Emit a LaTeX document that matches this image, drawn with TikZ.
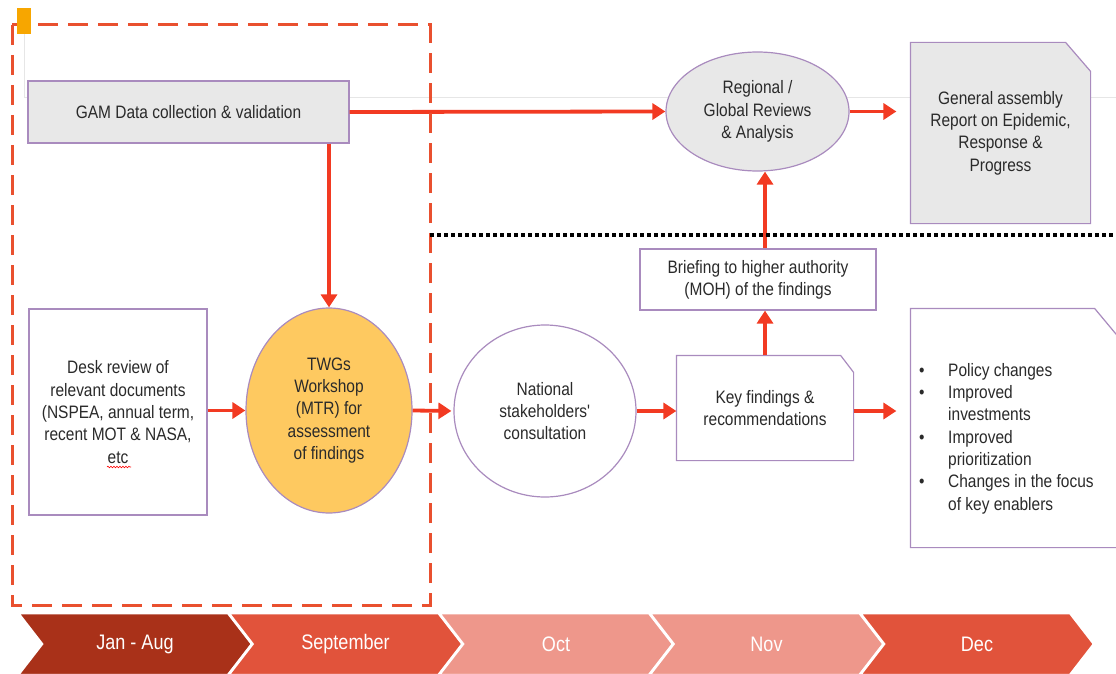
\documentclass[tikz,border=0pt]{standalone}
\usepackage{fontspec}
\setmainfont{Liberation Sans}[FakeStretch=0.86]
\usetikzlibrary{arrows.meta,shapes.geometric,backgrounds,decorations.pathmorphing}

\definecolor{arrRed}{HTML}{F23A22}
\definecolor{dashRed}{HTML}{E9502F}
\definecolor{boxLine}{HTML}{A98BBE}
\definecolor{boxFill}{HTML}{E8E8E8}
\definecolor{twgYellow}{HTML}{FEC960}
\definecolor{txtGray}{HTML}{2A2A2A}
\definecolor{janCol}{HTML}{A93119}
\definecolor{sepCol}{HTML}{E1533B}
\definecolor{octCol}{HTML}{EE978B}
\definecolor{faintGray}{HTML}{E6E6E6}
\definecolor{tagOrange}{HTML}{F7A600}

\tikzset{
  box/.style={draw=boxLine, line width=1.2pt, rectangle, align=center,
    inner sep=2pt, text=txtGray, font=\fontsize{18}{22.3}\selectfont},
  greybox/.style={box, fill=boxFill},
  oval/.style={box, ellipse, inner sep=1pt},
  doc/.style={box, draw=none},
  flow/.style={draw=arrRed, line width=3.8pt, -{Triangle[length=13pt,width=16pt]}},
  month/.style={text=white, font=\fontsize{21}{24}\selectfont},
}

\begin{document}
\begin{tikzpicture}[x=1pt, y=-1pt]

  \useasboundingbox (0,0) rectangle (1116,674);
  \clip (0,0) rectangle (1116,674);

  % Top row
  \node[greybox, minimum width=321pt, minimum height=62pt] (gam) at (188.5,112)
    {GAM Data collection \& validation};
  \node[oval, fill=boxFill, minimum width=183pt, minimum height=119pt] (regional) at (757.5,111.5)
    {Regional /\\Global Reviews\\\& Analysis};
  \node[doc, minimum width=179pt, minimum height=180pt] (gar) at (1000.5,133)
    {General assembly\\Report on Epidemic,\\Response \&\\Progress};

  % Bottom row
  \node[box, fill=white, minimum width=178pt, minimum height=206pt] (desk) at (118,412)
    {Desk review of\\relevant documents\\(NSPEA, annual term,\\recent MOT \& NASA,\\etc};
  \node[oval, fill=twgYellow, minimum width=166pt, minimum height=205pt] (twg) at (329,410.5)
    {TWGs\\Workshop\\(MTR) for\\assessment\\of findings};
  \node[oval, fill=white, minimum width=182pt, minimum height=172pt] (nat) at (545,411)
    {National\\stakeholders\textquotesingle\\consultation};
  \node[doc, minimum width=176pt, minimum height=104pt] (key) at (765,408)
    {Key findings \&\\recommendations};
  \node[box, fill=white, minimum width=236pt, minimum height=61pt] (brief) at (758,279.5)
    {Briefing to higher authority\\(MOH) of the findings};
  \node[doc, minimum width=208pt, minimum height=238pt] (res) at (1015,428) {};
  \node[anchor=north west, align=left, inner sep=0pt, text=txtGray,
    font=\fontsize{18}{22.3}\selectfont] (resList) at (919,363)
    {\makebox[29pt][l]{\textbullet}Policy changes\\
     \makebox[29pt][l]{\textbullet}Improved\\
     \hspace*{29pt}investments\\
     \makebox[29pt][l]{\textbullet}Improved\\
     \hspace*{29pt}prioritization\\
     \makebox[29pt][l]{\textbullet}Changes in the focus\\
     \hspace*{29pt}of key enablers};

  % Document outlines with cut corner
  \begin{scope}[on background layer]
    \draw[faintGray, line width=1pt] (24,34) -- (24,98) -- (1116,98);
    \filldraw[draw=boxLine, fill=boxFill, line width=1.2pt] (gar.north west)
      -- ([xshift=-25pt]gar.north east) -- ([yshift=-29pt]gar.north east)
      -- (gar.south east) -- (gar.south west) -- cycle;
    \filldraw[draw=boxLine, fill=white, line width=1.2pt] (key.north west)
      -- ([xshift=-13pt]key.north east) -- ([yshift=-17pt]key.north east)
      -- (key.south east) -- (key.south west) -- cycle;
    \filldraw[draw=boxLine, fill=white, line width=1.2pt] (res.north west)
      -- ([xshift=-25pt]res.north east) -- ([yshift=-30pt]res.north east)
      -- (res.south east) -- (res.south west) -- cycle;
  \end{scope}

  % Spell check mark
  \draw[red, line width=0.6pt, decorate, decoration={snake, amplitude=0.8pt, segment length=3pt}]
    (107,467) -- (131,467);

  % Connectors
  \draw[flow] (gam.east) -- (regional.west);
  \draw[flow, shorten >=14pt] (regional.east) -- (regional.east -| gar.west);
  \draw[flow] (gam.south -| twg.north) -- (twg.north);
  \draw[flow] (desk.east |- twg.west) -- (twg.west);
  \draw[flow, shorten >=2pt] (twg.east) -- (nat.west);
  \draw[flow] (nat.east) -- (nat.east -| key.west);
  \draw[flow] (key.north) -- (key.north |- brief.south);
  \draw[flow] (key.north |- brief.north) -- (key.north |- regional.south);
  \draw[flow, shorten >=14pt] (key.east |- nat.east) -- (nat.east -| res.west);

  % Phase frame and divider
  \draw[dashRed, line width=3pt, dash pattern=on 20pt off 10pt] (12,25) rectangle (430,605);
  \draw[black, line width=4pt, dash pattern=on 4pt off 3pt] (430,235) -- (1116,235);
  \fill[tagOrange] (17,8) rectangle (31,34);

  % Timeline
  \foreach \i/\lab/\col in {0/Jan - Aug/janCol,1/September/sepCol,2/Oct/octCol,3/Nov/octCol,4/Dec/sepCol}{
    \pgfmathsetmacro\xa{18+210.5*\i}
    \filldraw[fill=\col, draw=white, line width=2.5pt] (\xa,613) -- ++(210,0) -- ++(24,31)
      -- ++(-24,31) -- ++(-210,0) -- ++(24,-31) -- cycle;
    \node[month] (m\i) at (\xa+117,644) {\lab};
  }

\end{tikzpicture}
\end{document}
